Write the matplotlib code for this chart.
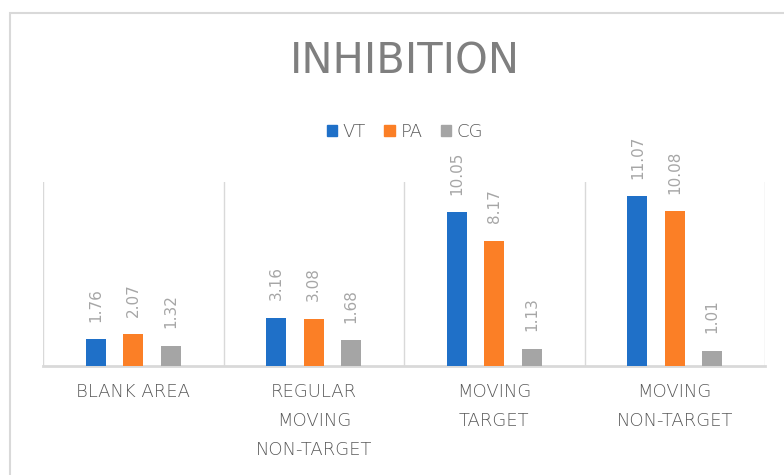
import matplotlib
matplotlib.use("Agg")
import matplotlib.pyplot as plt
import numpy as np
from matplotlib.patches import Rectangle, Patch

categories = ["BLANK AREA", "REGULAR\nMOVING\nNON-TARGET", "MOVING\nTARGET", "MOVING\nNON-TARGET"]
series_names = ["VT", "PA", "CG"]
vt = [1.76, 3.16, 10.05, 11.07]
pa = [2.07, 3.08, 8.17, 10.08]
cg = [1.32, 1.68, 1.13, 1.01]
colors = ["#1F70C8", "#FB7F26", "#A5A5A5"]

plt.rcParams['font.family'] = ['DejaVu Sans']

fig = plt.figure(figsize=(7.84, 4.75), dpi=100)
# outer chart frame
fig.patches.append(Rectangle((10/784, -0.1), 1.2, (475-13)/475 + 0.1, transform=fig.transFigure,
                             fill=False, edgecolor="#d9d9d9", linewidth=1.5))

ax = fig.add_axes([43/784, 109/475, 722/784, 184/475])
x = np.arange(len(categories))
w = 0.11
offs = [-0.207, 0.0, 0.207]
for vals, name, col, o in zip([vt, pa, cg], series_names, colors, offs):
    bars = ax.bar(x + o, vals, width=w, color=col, label=name, zorder=3)
    for b, v in zip(bars, vals):
        ax.annotate(f"{v:.2f}", (b.get_x() + b.get_width()/2, v), xytext=(0, 12.5),
                    textcoords="offset points", rotation=90, ha="center", va="bottom",
                    fontsize=11, color="#a6a6a6", annotation_clip=False)

ax.set_xlim(-0.5, 3.5)
ax.set_ylim(0, 12)
for s in ["top", "right", "left"]:
    ax.spines[s].set_visible(False)
ax.spines["bottom"].set_color("#d9d9d9")
ax.spines["bottom"].set_linewidth(2)
for xs in np.arange(-0.5, 4.0, 1.0):
    ax.axvline(xs, color="#d9d9d9", linewidth=1, zorder=1)
ax.set_yticks([])
ax.set_xticks(x)
ax.set_xticklabels(categories, fontsize=13, color="#595959", linespacing=1.8,
                   fontweight="light")
ax.tick_params(axis="x", length=0, pad=12)

fig.text(405/784, 1 - 62/475, "INHIBITION", ha="center", va="center", fontsize=30,
         color="#7f7f7f", fontweight="normal")

handles = [Patch(color=c, label=n) for c, n in zip(colors, series_names)]
leg = fig.legend(handles=handles, loc="center", bbox_to_anchor=(405/784, 1 - 132/475), ncol=3,
                 frameon=False, handlelength=0.6, handleheight=0.6,
                 handletextpad=0.3, columnspacing=1.0,
                 prop={"size": 13, "weight": "light"})
for t in leg.get_texts():
    t.set_color("#595959")

fig.savefig("out.png", dpi=100)
